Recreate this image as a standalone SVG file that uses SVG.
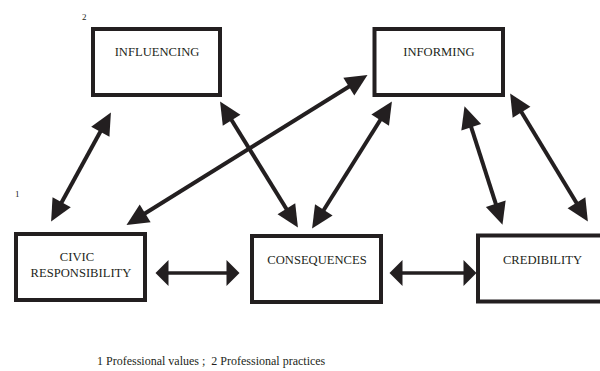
<svg xmlns="http://www.w3.org/2000/svg" width="600" height="371" viewBox="0 0 600 371">
<style>
.box{fill:#fff;stroke:#231f20;stroke-width:4}
text{font-family:"Liberation Serif","Times New Roman",Tinos,"DejaVu Serif",serif;fill:#231f20}
.lbl{font-size:12.6px;text-anchor:middle}
.note{font-size:9px}
.foot{font-size:12px}
.con line{stroke:#231f20;stroke-width:4}
.con line.d{marker-start:url(#hd);marker-end:url(#hd)}
.con line.h{stroke-width:3.5;marker-start:url(#hh);marker-end:url(#hh)}
</style>
<defs>
<marker id="hd" markerUnits="userSpaceOnUse" markerWidth="22" markerHeight="22" viewBox="0 -9 18 18" refX="10" refY="0" orient="auto-start-reverse" overflow="visible">
<path d="M0,-8.5 L18,0 L0,8.5 Z" fill="#231f20"/>
</marker>
<marker id="hh" markerUnits="userSpaceOnUse" markerWidth="14" markerHeight="26" viewBox="0 -12 12 24" refX="6" refY="0" orient="auto-start-reverse" overflow="visible">
<path d="M0,-12 L12,0 L0,12 Z" fill="#231f20"/>
</marker>
</defs>
<rect width="600" height="371" fill="#fff"/>
<g id="connectors" class="con">
<line class="d" x1="55.8" y1="213" x2="106.2" y2="121"/>
<line class="d" x1="225.2" y1="109.8" x2="292.8" y2="219.2"/>
<line class="d" x1="134.8" y1="219.8" x2="359.2" y2="80.2"/>
<line class="d" x1="386.7" y1="109.8" x2="317.3" y2="220.2"/>
<line class="d" x1="467.5" y1="115.6" x2="499.5" y2="215.4"/>
<line class="d" x1="515.2" y1="101.8" x2="582.8" y2="213.2"/>
<line class="h" x1="162" y1="273" x2="233" y2="273"/>
<line class="h" x1="396" y1="273" x2="470" y2="273"/>
</g>
<g id="influencing">
<rect class="box" x="93" y="29" width="127" height="66"/>
<text class="lbl" x="157" y="56">INFLUENCING</text>
</g>
<g id="informing">
<rect class="box" x="374.5" y="29" width="128.5" height="66"/>
<text class="lbl" x="439" y="56">INFORMING</text>
</g>
<g id="civic">
<rect class="box" x="16" y="234" width="129" height="66"/>
<text class="lbl" x="77" y="261">CIVIC</text>
<text class="lbl" x="81" y="277">RESPONSIBILITY</text>
</g>
<g id="consequences">
<rect class="box" x="252" y="236" width="129" height="66"/>
<text class="lbl" x="317" y="264">CONSEQUENCES</text>
</g>
<g id="credibility">
<rect class="box" x="478" y="235.5" width="140" height="66"/>
<text class="lbl" x="542.5" y="264">CREDIBILITY</text>
</g>
<text class="note" x="82" y="20">2</text>
<text class="note" x="15" y="197">1</text>
<text class="foot" x="97" y="365">1 Professional values ;&#160; 2 Professional practices</text>
</svg>
